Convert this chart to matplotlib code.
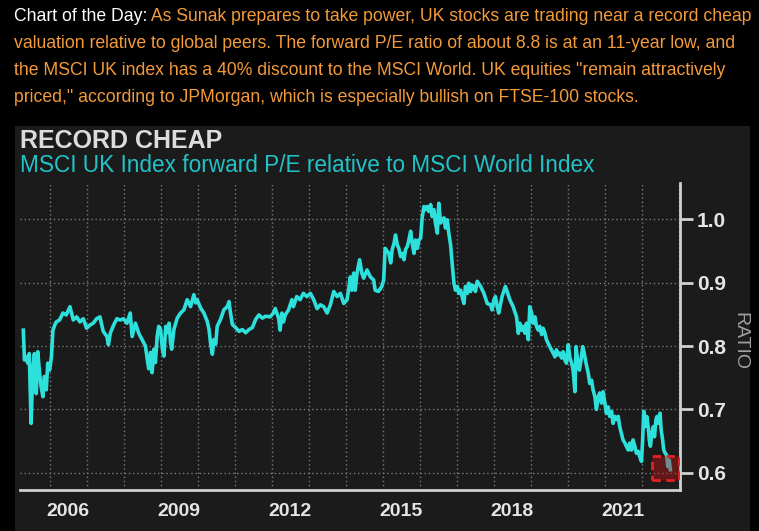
import matplotlib
matplotlib.use("Agg")
import matplotlib.pyplot as plt
from matplotlib.patches import Rectangle

# MSCI UK fwd P/E relative to MSCI World (decimal years)
years = [
    2005.29, 2005.32, 2005.36, 2005.41, 2005.45, 2005.50, 2005.55, 2005.59, 2005.64, 2005.68,
    2005.73, 2005.77, 2005.82, 2005.86, 2005.91, 2005.95, 2006.00, 2006.05, 2006.09, 2006.14,
    2006.18, 2006.27, 2006.36, 2006.45, 2006.55, 2006.64, 2006.73, 2006.82, 2006.91, 2007.00,
    2007.09, 2007.18, 2007.27, 2007.36, 2007.45, 2007.55, 2007.59, 2007.64, 2007.73, 2007.82,
    2007.91, 2008.00, 2008.09, 2008.18, 2008.23, 2008.32, 2008.41, 2008.50,
    2008.59, 2008.64, 2008.68, 2008.73, 2008.77, 2008.82, 2008.86, 2008.91, 2008.95, 2009.00,
    2009.05, 2009.09, 2009.14, 2009.18, 2009.23, 2009.27, 2009.30, 2009.36, 2009.45, 2009.54,
    2009.63, 2009.72, 2009.81, 2009.90, 2009.95, 2009.99, 2010.08, 2010.17, 2010.26, 2010.31,
    2010.35, 2010.40, 2010.44, 2010.49, 2010.53, 2010.62, 2010.71, 2010.80, 2010.85, 2010.89,
    2010.94, 2011.03, 2011.12, 2011.21, 2011.30, 2011.39, 2011.48, 2011.57, 2011.66, 2011.75,
    2011.84,
    2011.96, 2012.05, 2012.10, 2012.19, 2012.23, 2012.28, 2012.32, 2012.37, 2012.46, 2012.55,
    2012.59, 2012.68, 2012.77, 2012.86, 2012.95, 2013.05, 2013.14, 2013.23, 2013.32, 2013.41,
    2013.50, 2013.59, 2013.68, 2013.77, 2013.86, 2013.95, 2014.04, 2014.08, 2014.13, 2014.17,
    2014.22, 2014.26, 2014.31, 2014.38, 2014.44, 2014.49, 2014.58, 2014.67, 2014.76, 2014.80,
    2014.89, 2014.98, 2015.03, 2015.07,
    2015.17, 2015.22, 2015.26, 2015.31, 2015.35, 2015.40, 2015.44, 2015.49, 2015.53, 2015.58,
    2015.62, 2015.67, 2015.71, 2015.76, 2015.80, 2015.85, 2015.89, 2015.94, 2015.98, 2016.03,
    2016.07, 2016.12, 2016.16, 2016.21, 2016.25, 2016.30, 2016.34, 2016.39, 2016.43, 2016.48,
    2016.52, 2016.57, 2016.61, 2016.66, 2016.70, 2016.75, 2016.79, 2016.84, 2016.88, 2016.93,
    2016.97, 2017.02, 2017.06, 2017.11, 2017.15, 2017.20, 2017.24, 2017.29, 2017.33, 2017.38,
    2017.42, 2017.47, 2017.51, 2017.56, 2017.65, 2017.74, 2017.83, 2017.92, 2017.96, 2018.01,
    2018.05, 2018.10, 2018.14, 2018.23, 2018.32,
    2018.44, 2018.53, 2018.62, 2018.67, 2018.71, 2018.76, 2018.80, 2018.85, 2018.89, 2018.94,
    2018.98, 2019.03, 2019.07, 2019.12, 2019.16, 2019.21, 2019.25, 2019.30, 2019.34, 2019.39,
    2019.43, 2019.52, 2019.61, 2019.66, 2019.70, 2019.75, 2019.79, 2019.84, 2019.88, 2019.93,
    2019.97, 2020.02, 2020.06, 2020.11, 2020.15, 2020.20, 2020.23, 2020.27, 2020.32, 2020.36,
    2020.41, 2020.45, 2020.50, 2020.56, 2020.60, 2020.65, 2020.69, 2020.74, 2020.78, 2020.83,
    2020.87, 2020.92, 2020.96, 2021.01, 2021.05, 2021.10, 2021.14, 2021.19, 2021.23, 2021.28,
    2021.32, 2021.37, 2021.41, 2021.50, 2021.55, 2021.59, 2021.64, 2021.68, 2021.73, 2021.77,
    2021.82, 2021.86, 2021.91, 2021.95, 2022.00, 2022.03, 2022.06, 2022.10, 2022.14, 2022.18,
    2022.21, 2022.24, 2022.28, 2022.32, 2022.35, 2022.39, 2022.42, 2022.46, 2022.50, 2022.53,
    2022.57, 2022.60, 2022.64, 2022.68, 2022.71, 2022.75, 2022.78,
]
ratio = [
    0.825, 0.778, 0.783, 0.773, 0.788, 0.678, 0.767, 0.788, 0.725, 0.791,
    0.757, 0.736, 0.720, 0.752, 0.731, 0.773, 0.762, 0.783, 0.825, 0.833,
    0.838, 0.841, 0.852, 0.849, 0.862, 0.841, 0.846, 0.838, 0.843, 0.828,
    0.833, 0.836, 0.843, 0.846, 0.823, 0.815, 0.802, 0.820, 0.833, 0.843,
    0.841, 0.843, 0.836, 0.852, 0.815, 0.836, 0.820, 0.810,
    0.800, 0.779, 0.764, 0.790, 0.758, 0.795, 0.774, 0.816, 0.831, 0.826,
    0.795, 0.784, 0.831, 0.821, 0.836, 0.805, 0.795, 0.826, 0.844, 0.852,
    0.857, 0.873, 0.862, 0.881, 0.868, 0.873, 0.860, 0.852, 0.839, 0.826,
    0.805, 0.787, 0.810, 0.803, 0.831, 0.842, 0.857, 0.862, 0.870, 0.852,
    0.834, 0.829, 0.823, 0.826, 0.821, 0.826, 0.829, 0.842, 0.849, 0.844,
    0.847,
    0.846, 0.852, 0.859, 0.844, 0.825, 0.852, 0.838, 0.849, 0.857, 0.873,
    0.862, 0.878, 0.873, 0.883, 0.878, 0.883, 0.873, 0.859, 0.865, 0.862,
    0.852, 0.865, 0.886, 0.878, 0.883, 0.867, 0.873, 0.888, 0.909, 0.888,
    0.915, 0.888, 0.915, 0.936, 0.915, 0.907, 0.920, 0.909, 0.904, 0.888,
    0.886, 0.894, 0.904, 0.954,
    0.946, 0.931, 0.952, 0.962, 0.975, 0.959, 0.954, 0.941, 0.946, 0.936,
    0.952, 0.957, 0.967, 0.981, 0.962, 0.946, 0.967, 0.954, 0.967, 0.970,
    1.002, 1.020, 1.015, 1.020, 1.012, 1.023, 1.004, 1.015, 0.994, 0.978,
    1.025, 0.994, 0.999, 1.002, 0.986, 0.999, 0.978, 0.959, 0.931, 0.899,
    0.888, 0.894, 0.883, 0.888, 0.878, 0.867, 0.894, 0.883, 0.899, 0.886,
    0.896, 0.894, 0.886, 0.902, 0.894, 0.883, 0.867, 0.865, 0.857, 0.873,
    0.878, 0.862, 0.852, 0.878, 0.894,
    0.873, 0.862, 0.846, 0.820, 0.836, 0.825, 0.831, 0.820, 0.836, 0.810,
    0.862, 0.852, 0.836, 0.846, 0.831, 0.825, 0.831, 0.818, 0.828, 0.820,
    0.810, 0.799, 0.789, 0.783, 0.794, 0.786, 0.789, 0.781, 0.791, 0.778,
    0.773, 0.802, 0.783, 0.773, 0.762, 0.728, 0.799, 0.778, 0.762, 0.776,
    0.799, 0.789, 0.773, 0.757, 0.741, 0.746, 0.731, 0.720, 0.700, 0.720,
    0.726, 0.710, 0.728, 0.710, 0.694, 0.704, 0.689, 0.697, 0.678, 0.689,
    0.684, 0.689, 0.673, 0.652, 0.647, 0.642, 0.636, 0.647, 0.636, 0.652,
    0.642, 0.631, 0.634, 0.626, 0.618, 0.652, 0.697, 0.673, 0.689, 0.673,
    0.652, 0.642, 0.663, 0.673, 0.657, 0.684, 0.689, 0.678, 0.694, 0.668,
    0.652, 0.636, 0.631, 0.628, 0.610, 0.620, 0.605,
]

label_years = [2006, 2009, 2012, 2015, 2018, 2021]
y_ticks = [0.6, 0.7, 0.8, 0.9, 1.0]
box_x = (2022.28, 2023.01)
box_y = (0.589, 0.627)

headline = "Chart of the Day:"
blurb = [
    " As Sunak prepares to take power, UK stocks are trading near a record cheap",
    "valuation relative to global peers. The forward P/E ratio of about 8.8 is at an 11-year low, and",
    "the MSCI UK index has a 40% discount to the MSCI World. UK equities \"remain attractively",
    "priced,\" according to JPMorgan, which is especially bullish on FTSE-100 stocks.",
]

W, H = 759, 531
fig = plt.figure(figsize=(W / 100, H / 100), dpi=100, facecolor="black")
plt.rcParams["font.family"] = ["Liberation Sans", "DejaVu Sans"]

orange = "#f39a3a"
# dark chart panel, behind the axes
fig.patches.append(Rectangle((15 / W, 0), 735 / W, (H - 126) / H, transform=fig.transFigure,
                             facecolor="#1b1b1b", edgecolor="none", zorder=-10))

t1 = fig.text(14 / W, 1 - 21 / H, headline, color="white", fontsize=12.7, va="baseline")
fig.canvas.draw()
bb = t1.get_window_extent()
fig.text(bb.x1 / W, 1 - 21 / H, blurb[0], color=orange, fontsize=12.7, va="baseline")
for i, line in enumerate(blurb[1:]):
    fig.text(14 / W, 1 - (48 + 27 * i) / H, line, color=orange, fontsize=12.7, va="baseline")

fig.text(20 / W, 1 - 148 / H, "RECORD CHEAP", color="#dcdcdc", fontsize=18, weight="bold",
         va="baseline")
fig.text(20 / W, 1 - 172 / H, "MSCI UK Index forward P/E relative to MSCI World Index",
         color="#22c3c8", fontsize=16.3, va="baseline")

ax = fig.add_axes([20 / W, (H - 490) / H, 660 / W, 307 / H])
ax.set_facecolor("none")
ax.plot(years, ratio, color="#2ee0dc", lw=2.6, solid_joinstyle="round", zorder=3)

ax.add_patch(Rectangle((box_x[0], box_y[0]), box_x[1] - box_x[0], box_y[1] - box_y[0],
                       facecolor=(0.8, 0.08, 0.08, 0.4), edgecolor="#e52222", lw=2,
                       linestyle=(0, (3, 2)), zorder=4))

ax.set_xlim(2005.2, 2023.04)
ax.set_ylim(0.573, 1.057)
ax.set_xticks([y + 0.5 for y in label_years])
ax.set_xticklabels([str(y) for y in label_years])
ax.set_xticks(range(2006, 2024), minor=True)
ax.set_yticks(y_ticks)
ax.set_yticklabels([f"{v:.1f}" for v in y_ticks])
ax.yaxis.tick_right()

ax.grid(axis="x", which="minor", color="#7a7a7a", lw=1, linestyle=(0, (1, 2)))
ax.grid(axis="y", which="major", color="#7a7a7a", lw=1, linestyle=(0, (1, 2)))
ax.set_axisbelow(True)

for s in ["top", "left"]:
    ax.spines[s].set_visible(False)
for s in ["right", "bottom"]:
    ax.spines[s].set_color("#d0d0d0")
    ax.spines[s].set_linewidth(2)

ax.tick_params(axis="x", which="both", length=0, pad=9, labelsize=14, labelcolor="#e4e4e4")
ax.tick_params(axis="y", length=9, width=2, color="#d0d0d0", pad=3, labelsize=15,
               labelcolor="#e4e4e4")
for lab in ax.get_xticklabels() + ax.get_yticklabels():
    lab.set_fontweight("bold")

fig.text(740 / W, 1 - 341 / H, "RATIO", color="#a0a0a0", fontsize=14, rotation=270,
         ha="center", va="center")

fig.savefig("out.png", dpi=100, facecolor="black")
